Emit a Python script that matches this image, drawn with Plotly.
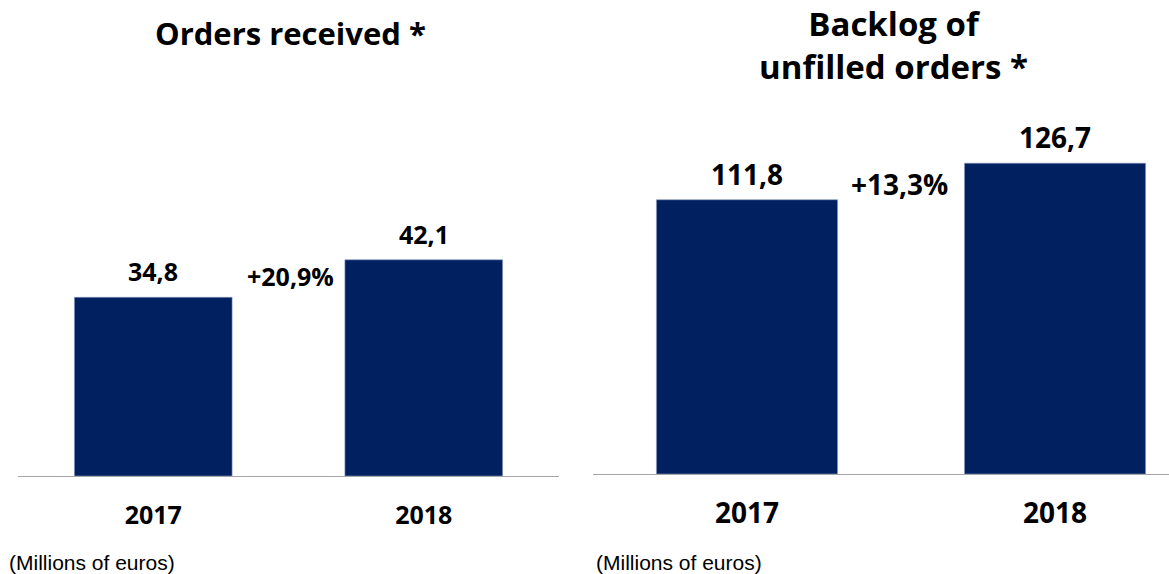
import plotly.graph_objects as go

years = ["2017", "2018"]
orders_received = [34.8, 42.1]
orders_labels = ["34,8", "42,1"]
orders_change = "+20,9%"
backlog = [111.8, 126.7]
backlog_labels = ["111,8", "126,7"]
backlog_change = "+13,3%"
title_left = "Orders received *"
title_right = "Backlog of<br>unfilled orders *"
unit_note = "(Millions of euros)"

W, H = 1169, 574
BAR = "#002060"
FONT = "Open Sans"


def px(x):
    return x / W


def py(y):
    return 1 - y / H


fig = go.Figure()
fig.add_trace(go.Bar(x=years, y=orders_received, xaxis="x", yaxis="y",
                     width=0.583, marker=dict(color=BAR, line=dict(color="#8A9AC0", width=0.6)),
                     hoverinfo="skip"))
fig.add_trace(go.Bar(x=years, y=backlog, xaxis="x2", yaxis="y2",
                     width=0.588, marker=dict(color=BAR, line=dict(color="#8A9AC0", width=0.6)),
                     hoverinfo="skip"))

ann = []
for i, (v, lab) in enumerate(zip(orders_received, orders_labels)):
    ann.append(dict(x=i, y=v, xref="x", yref="y", text=lab, showarrow=False,
                    xanchor="center", yanchor="middle", yshift=26,
                    font=dict(family=FONT, size=25, color="black", weight="bold")))
for i, (v, lab) in enumerate(zip(backlog, backlog_labels)):
    ann.append(dict(x=i, y=v, xref="x2", yref="y2", text=lab, showarrow=False,
                    xanchor="center", yanchor="middle", yshift=26,
                    font=dict(family=FONT, size=28, color="black", weight="bold")))

ann.append(dict(x=px(290), y=py(276), xref="paper", yref="paper", text=orders_change,
                showarrow=False, xanchor="center", yanchor="middle",
                font=dict(family=FONT, size=25, color="black", weight="bold")))
ann.append(dict(x=px(900), y=py(184), xref="paper", yref="paper", text=backlog_change,
                showarrow=False, xanchor="center", yanchor="middle",
                font=dict(family=FONT, size=28, color="black", weight="bold")))

ann.append(dict(x=px(290), y=py(33), xref="paper", yref="paper", text=title_left,
                showarrow=False, xanchor="center", yanchor="middle",
                font=dict(family=FONT, size=31, color="black", weight="bold")))
ann.append(dict(x=px(893), y=py(45), xref="paper", yref="paper", text=title_right,
                showarrow=False, xanchor="center", yanchor="middle", align="center",
                borderpad=0,
                font=dict(family=FONT, size=33, color="black", weight="bold")))

for x0 in (7, 594):
    ann.append(dict(x=px(x0), y=py(562), xref="paper", yref="paper", text=unit_note,
                    showarrow=False, xanchor="left", yanchor="middle",
                    font=dict(family="Liberation Sans", size=21, color="black")))

axis_common = dict(type="category", showline=True, linecolor="#A6A6A6", linewidth=1.2,
                   ticks="", showgrid=False, zeroline=False, fixedrange=True)

fig.update_layout(
    width=W, height=H,
    margin=dict(l=0, r=0, t=0, b=0),
    paper_bgcolor="white", plot_bgcolor="white",
    showlegend=False,
    xaxis=dict(domain=[px(18), px(559)], range=[-0.5, 1.5], anchor="y",
               tickfont=dict(family=FONT, size=25, color="black", weight="bold"),
               ticklabelstandoff=17, **axis_common),
    yaxis=dict(domain=[py(476), 1], range=[0, 476 / 5.135], visible=False, anchor="x"),
    xaxis2=dict(domain=[px(593), 1], range=[-0.5, 1.37], anchor="y2",
                tickfont=dict(family=FONT, size=28, color="black", weight="bold"),
                ticklabelstandoff=14, **axis_common),
    yaxis2=dict(domain=[py(474), 1], range=[0, 474 / 2.453], visible=False, anchor="x2"),
    annotations=ann,
)

fig.write_html("out.html",
               config={"displayModeBar": False, "staticPlot": True},
               post_script="document.body.style.margin='0';document.body.style.overflow='hidden';")
